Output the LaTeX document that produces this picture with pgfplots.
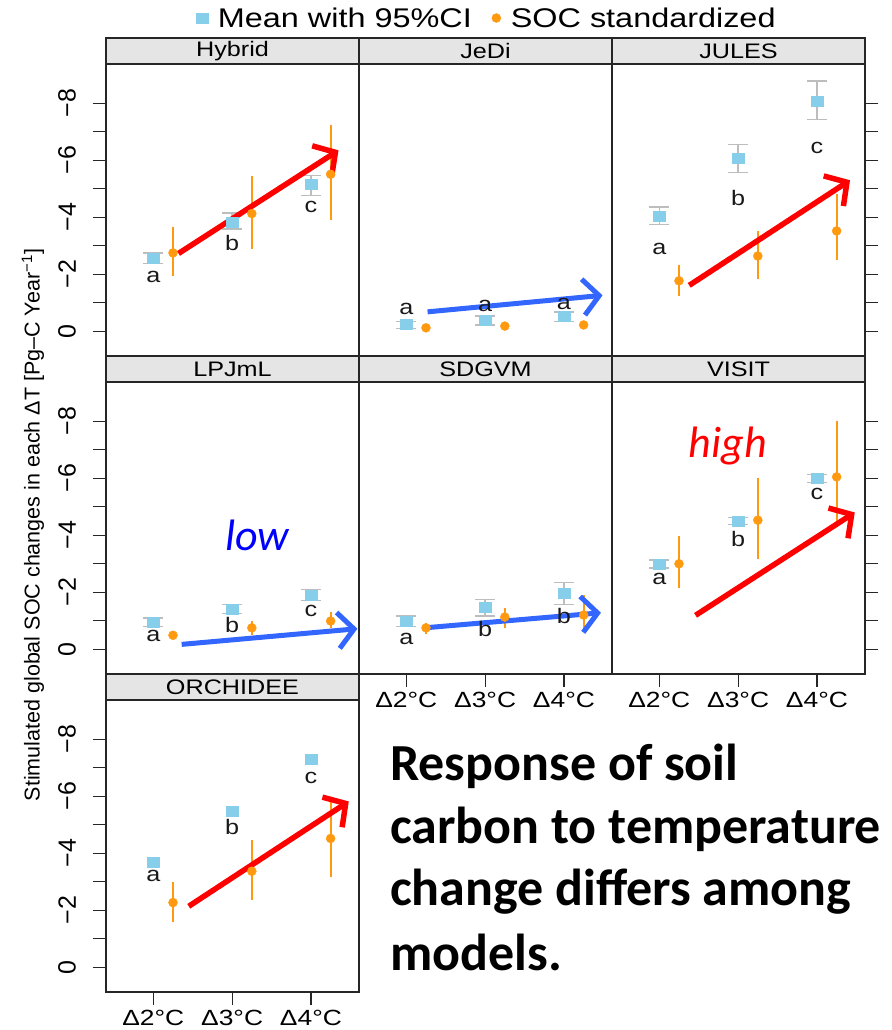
\documentclass[border=0pt]{standalone}
\usepackage{pgfplots}
\pgfplotsset{compat=1.18}
\usepackage{pgfplotstable}
\usepackage{fontspec}
\usetikzlibrary{arrows.meta,calc}
\setmainfont{Liberation Sans}
\newfontfamily\plotfont[FakeStretch=1.2]{Liberation Sans}
\newfontfamily\calfont{Carlito}

\definecolor{skyb}{HTML}{87CEEB}
\definecolor{soc}{HTML}{FF9A10}
\definecolor{cigray}{HTML}{BDBDBD}
\definecolor{arrblue}{HTML}{3366FF}
\definecolor{stripg}{HTML}{E5E5E5}

\newcommand\tickfont{\plotfont\fontsize{21bp}{24bp}\selectfont}
\newcommand\xtickfont{\plotfont\fontsize{22bp}{24bp}\selectfont}
\newcommand\ytickfont{\fontsize{25bp}{27bp}\selectfont}

% cat, mean, 95% CI (lo/hi), SOC standardized (lo/hi), letter and its height
\pgfplotstableread{
cat mean mlo mhi soc slo shi lab laby
1 -2.55 -2.75 -2.38 -2.75 -3.66 -1.94 a -1.89
2 -3.84 -4.15 -3.59 -4.13 -5.45 -2.90 b -3.09
3 -5.15 -5.47 -4.77 -5.51 -7.25 -3.89 c -4.35
}\hybrid
\pgfplotstableread{
cat mean mlo mhi soc slo shi lab laby
1 -0.25 -0.35 -0.10 -0.12 -0.12 -0.12 a -0.77
2 -0.39 -0.53 -0.22 -0.18 -0.18 -0.18 a -0.88
3 -0.53 -0.68 -0.35 -0.22 -0.22 -0.22 a -0.95
}\jedi
\pgfplotstableread{
cat mean mlo mhi soc slo shi lab laby
1 -4.05 -4.36 -3.74 -1.77 -2.34 -1.24 a -2.90
2 -6.06 -6.56 -5.57 -2.64 -3.52 -1.85 b -4.66
3 -8.08 -8.78 -7.43 -3.52 -4.80 -2.49 c -6.45
}\jules
\pgfplotstableread{
cat mean mlo mhi soc slo shi lab laby
1 -0.95 -1.09 -0.80 -0.49 -0.49 -0.49 a -0.45
2 -1.42 -1.57 -1.25 -0.75 -0.98 -0.49 b -0.84
3 -1.89 -2.09 -1.71 -0.99 -1.30 -0.76 c -1.36
}\lpjml
\pgfplotstableread{
cat mean mlo mhi soc slo shi lab laby
1 -0.99 -1.16 -0.80 -0.75 -0.92 -0.55 a -0.37
2 -1.46 -1.75 -1.16 -1.13 -1.46 -0.75 b -0.72
3 -1.97 -2.35 -1.57 -1.20 -1.89 -0.70 b -1.16
}\sdgvm
\pgfplotstableread{
cat mean mlo mhi soc slo shi lab laby
1 -3.00 -3.14 -2.86 -3.00 -3.99 -2.16 a -2.47
2 -4.51 -4.63 -4.37 -4.53 -6.02 -3.17 b -3.87
3 -6.00 -6.14 -5.85 -6.05 -8.00 -4.40 c -5.44
}\visit
\pgfplotstableread{
cat mean mlo mhi soc slo shi lab laby
1 -3.67 -3.67 -3.67 -2.27 -2.99 -1.59 a -3.19
2 -5.48 -5.48 -5.48 -3.37 -4.48 -2.35 b -4.92
3 -7.30 -7.30 -7.30 -4.52 -5.98 -3.17 c -6.66
}\orchidee

\tikzset{
  redarr/.style={red, line width=5.5bp, -{Straight Barb[length=16bp,width=36bp]}},
  bluarr/.style={arrblue, line width=5bp, -{Straight Barb[length=16bp,width=36bp]}},
}

\pgfplotsset{
  panel/.style={width=253bp, height=292bp, scale only axis, anchor=center,
    xmin=0.4, xmax=3.61, ymin=-9.38, ymax=0.87, y dir=reverse,
    xtick=\empty, ytick=\empty, clip=false,
    axis line style={black!85, line width=1.3bp},
    tick style={black!85, line width=1.2bp},
    tick align=outside, major tick length=13bp, minor tick length=13bp},
  leftaxis/.style={ytick={-8,-6,-4,-2,0}, minor ytick={-7,-5,-3,-1},
    yticklabels={−8,−6,−4,−2,0}, ytick pos=left,
    yticklabel style={xshift=-17bp, rotate=90, anchor=south, inner sep=0pt, font=\ytickfont}},
  rightaxis/.style={ytick={-8,-7,...,0}, yticklabels=\empty, ytick pos=right},
  bottomaxis/.style={xtick={1,2,3}, xticklabels={Δ2°C,Δ3°C,Δ4°C},
    xtick pos=bottom, xticklabel style={font=\xtickfont, yshift=-2bp}},
  meanst/.style={only marks, mark=square*, mark size=5bp,
    mark options={xscale=1.2, fill=skyb, draw=skyb},
    error bars/.cd, y dir=both, y explicit,
    error bar style={cigray, line width=1.5bp},
    error mark options={rotate=90, cigray, line width=1.5bp, mark size=10bp}},
  meanplain/.style={only marks, mark=square*, mark size=5bp,
    mark options={xscale=1.2, fill=skyb, draw=skyb}},
  socst/.style={only marks, mark=*, mark size=4.5bp,
    mark options={fill=soc, draw=soc},
    error bars/.cd, y dir=both, y explicit, error mark=none,
    error bar style={soc, line width=2bp}},
  labst/.style={draw=none, mark=none, nodes near coords,
    point meta=explicit symbolic, nodes near coords align={center},
    every node near coord/.append style={font=\tickfont, text=black!90}},
}

\newcommand\meanci[1]{\addplot[meanst] table[x=cat, y=mean,
  y error plus expr=\thisrow{mhi}-\thisrow{mean},
  y error minus expr=\thisrow{mean}-\thisrow{mlo}] {#1};}
\newcommand\socpts[1]{\addplot[socst] table[x expr=\thisrow{cat}+0.25, y=soc,
  y error plus expr=\thisrow{shi}-\thisrow{soc},
  y error minus expr=\thisrow{soc}-\thisrow{slo}] {#1};}
\newcommand\letters[1]{\addplot[labst] table[x=cat, y=laby, meta=lab] {#1};}
\newcommand\strip[3]{% left, top, name
  \draw[fill=stripg, draw=black!85, line width=1.3bp] (#1bp,-#2bp) rectangle ++(253bp,-26bp);
  \node[font=\tickfont] at ($(#1bp,-#2bp)+(126.5bp,-13bp)$) {#3};}

\begin{document}
\begin{tikzpicture}
\useasboundingbox (0,0) rectangle (892bp,-1030bp);

% row 1
\begin{axis}[panel, leftaxis, at={(232.5bp,-210bp)},
  legend columns=2,
  legend style={at={(1.505,1.1575)}, anchor=center, draw=none, fill=none,
    font=\plotfont\fontsize{27bp}{28bp}\selectfont,
    /tikz/every odd column/.append style={column sep=8bp},
    /tikz/every even column/.append style={column sep=18bp}}]
\meanci{\hybrid}\addlegendentry{Mean with 95\%CI}
\socpts{\hybrid}\addlegendentry{SOC standardized}
\letters{\hybrid}
\draw[redarr] (axis cs:1.32,-2.73) -- (axis cs:3.35,-6.35);
\end{axis}

\begin{axis}[panel, at={(485.5bp,-210bp)}]
\meanci{\jedi}
\socpts{\jedi}
\letters{\jedi}
\draw[bluarr] (axis cs:1.27,-0.68) -- (axis cs:3.49,-1.26);
\end{axis}

\begin{axis}[panel, rightaxis, at={(738.5bp,-210bp)}]
\meanci{\jules}
\socpts{\jules}
\letters{\jules}
\draw[redarr] (axis cs:1.38,-1.61) -- (axis cs:3.42,-5.30);
\end{axis}

% row 2
\begin{axis}[panel, leftaxis, at={(232.5bp,-528bp)}]
\meanci{\lpjml}
\socpts{\lpjml}
\letters{\lpjml}
\draw[bluarr] (axis cs:1.36,-0.17) -- (axis cs:3.59,-0.72);
\node[font=\calfont\itshape\fontsize{44bp}{44bp}\selectfont, text=blue] at (axis cs:2.32,-3.99) {low};
\end{axis}

\begin{axis}[panel, bottomaxis, at={(485.5bp,-528bp)}]
\meanci{\sdgvm}
\socpts{\sdgvm}
\letters{\sdgvm}
\draw[bluarr] (axis cs:1.23,-0.75) -- (axis cs:3.47,-1.28);
\end{axis}

\begin{axis}[panel, rightaxis, bottomaxis, at={(738.5bp,-528bp)}]
\meanci{\visit}
\socpts{\visit}
\letters{\visit}
\draw[redarr] (axis cs:1.46,-1.19) -- (axis cs:3.48,-4.80);
\node[font=\calfont\itshape\fontsize{44bp}{44bp}\selectfont, text=red] at (axis cs:1.87,-7.13) {high};
\end{axis}

% row 3
\begin{axis}[panel, leftaxis, bottomaxis, at={(232.5bp,-846bp)}]
\addplot[meanplain] table[x=cat, y=mean] {\orchidee};
\socpts{\orchidee}
\letters{\orchidee}
\draw[redarr] (axis cs:1.45,-2.14) -- (axis cs:3.48,-5.82);
\end{axis}

\strip{106}{38}{Hybrid}
\strip{359}{38}{JeDi}
\strip{612}{38}{JULES}
\strip{106}{356}{LPJmL}
\strip{359}{356}{SDGVM}
\strip{612}{356}{VISIT}
\strip{106}{674}{ORCHIDEE}

\node[rotate=90, font=\fontsize{21.5bp}{24bp}\selectfont] at (33bp,-525bp)
  {Stimulated global SOC changes in each ΔT [Pg–C Year\textsuperscript{−1}]};

\begin{scope}[font=\calfont\bfseries\fontsize{52bp}{60bp}\selectfont]
\node[anchor=base west, inner sep=0pt] at (390bp,-780bp) {Response of soil};
\node[anchor=base west, inner sep=0pt] at (390bp,-843bp) {carbon to temperature};
\node[anchor=base west, inner sep=0pt] at (390bp,-905bp) {change differs among};
\node[anchor=base west, inner sep=0pt] at (390bp,-970bp) {models.};
\end{scope}
\end{tikzpicture}
\end{document}
